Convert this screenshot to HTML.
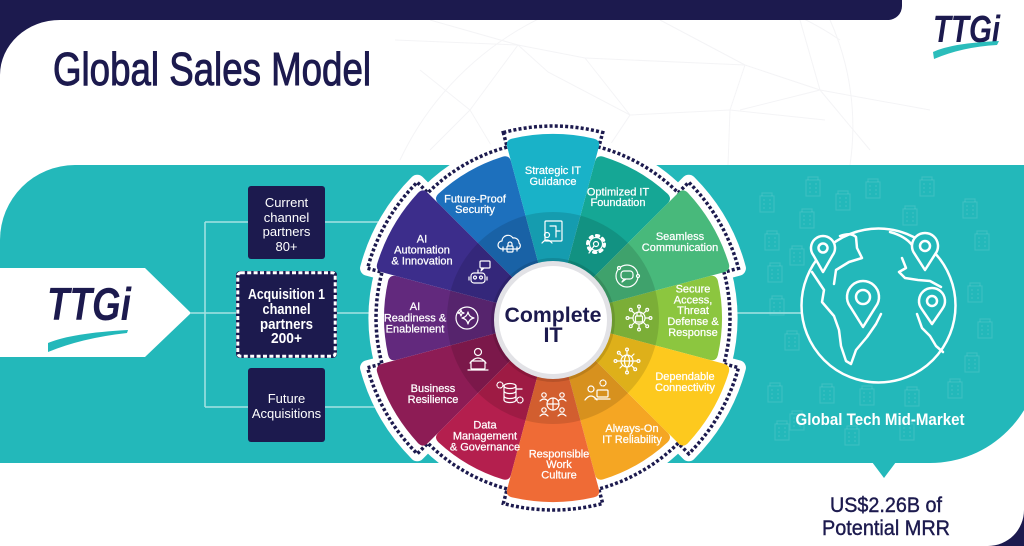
<!DOCTYPE html>
<html><head><meta charset="utf-8">
<style>
html,body{margin:0;padding:0;background:#fff;}
svg{display:block;}
text{font-family:"Liberation Sans",Arial,sans-serif;}
</style></head>
<body>
<svg width="1024" height="546" viewBox="0 0 1024 546" xmlns="http://www.w3.org/2000/svg">
<defs>
<path id="sb" d="M553 318 L507.19 147.04 Q505.38 140.27 512.17 138.58 A184 184 0 0 1 593.83 138.58 Q600.62 140.27 598.81 147.04 Z"/>
<path id="ss" d="M553 318 L511.07 161.52 Q509.26 154.76 516.06 153.09 A169 169 0 0 1 589.94 153.09 Q596.74 154.76 594.93 161.52 Z"/>
<path id="ol" d="M503.31 132.55 A192 192 0 0 1 602.69 132.55 L598.81 147.04 A177 177 0 0 1 678.16 192.84 L688.76 182.24 A192 192 0 0 1 738.45 268.31 L723.96 272.19 A177 177 0 0 1 723.96 363.81 L738.45 367.69 A192 192 0 0 1 688.76 453.76 L678.16 443.16 A177 177 0 0 1 598.81 488.96 L602.69 503.45 A192 192 0 0 1 503.31 503.45 L507.19 488.96 A177 177 0 0 1 427.84 443.16 L417.24 453.76 A192 192 0 0 1 367.55 367.69 L382.04 363.81 A177 177 0 0 1 382.04 272.19 L367.55 268.31 A192 192 0 0 1 417.24 182.24 L427.84 192.84 A177 177 0 0 1 507.19 147.04 Z"/>
<g id="bld"><rect x="0" y="4" width="14" height="16"/><path d="M3 8h2M9 8h2M3 12h2M9 12h2M3 16h2M9 16h2M2 4V1h10v3"/></g>
</defs>
<rect width="1024" height="546" fill="#fff"/>

<!-- faint wireframe -->
<g stroke="#f4f4f6" stroke-width="1" fill="none">
<path d="M395 40 L518 45 L585 58 L745 65 L820 90 L930 110"/>
<path d="M430 20 L518 45 L548 72 L630 115 L730 110 L825 120"/>
<path d="M585 58 L630 115 L600 160 M745 65 L730 110 L728 165 M518 45 L470 110 L500 160"/>
<path d="M660 20 L745 65 M800 20 L820 90 L740 110 M820 90 L870 150 M420 70 L470 110 L430 150"/>
<path d="M400 160 A300 300 0 0 1 840 40"/>
<path d="M830 20 A260 260 0 0 1 850 165"/>
</g>

<!-- header navy -->
<path d="M0 0 H902 V6 A14 14 0 0 1 888 20 H60 A60 55 0 0 0 0 75 Z" fill="#1c1a4e"/>
<path d="M1024 546 H988 A36 36 0 0 0 1024 510 Z" fill="#1c1a4e"/>

<!-- title -->
<text x="53" y="85" font-size="46" fill="#1c1a4e" stroke="#1c1a4e" stroke-width="1" textLength="318" lengthAdjust="spacingAndGlyphs">Global Sales Model</text>

<!-- top-right logo -->
<text x="933" y="42" font-size="38" font-weight="bold" font-style="italic" fill="#1c1a4e" textLength="67" lengthAdjust="spacingAndGlyphs">TTGi</text>
<path d="M933 52 Q952 43 999 41 L997 45 Q962 47 934 59 Z" fill="#2bbdbb"/>

<!-- teal band -->
<path d="M0 240 A75 75 0 0 1 75 165 H1040 V353 A110 110 0 0 1 930 463 H0 Z" fill="#23b8ba"/>
<path d="M872 462 L884 478 L896 462 Z" fill="#23b8ba"/>

<!-- buildings pattern -->
<g stroke="#ffffff" stroke-opacity="0.11" stroke-width="1.2" fill="none">
<use href="#bld" x="760" y="192"/><use href="#bld" x="800" y="208"/><use href="#bld" x="806" y="176"/>
<use href="#bld" x="836" y="190"/><use href="#bld" x="866" y="178"/><use href="#bld" x="903" y="205"/>
<use href="#bld" x="920" y="176"/><use href="#bld" x="963" y="198"/><use href="#bld" x="975" y="230"/>
<use href="#bld" x="765" y="230"/><use href="#bld" x="790" y="245"/><use href="#bld" x="768" y="262"/>
<use href="#bld" x="770" y="295"/><use href="#bld" x="968" y="282"/><use href="#bld" x="978" y="318"/>
<use href="#bld" x="965" y="352"/><use href="#bld" x="948" y="378"/><use href="#bld" x="905" y="386"/>
<use href="#bld" x="860" y="385"/><use href="#bld" x="820" y="383"/><use href="#bld" x="785" y="330"/>
<use href="#bld" x="768" y="382"/><use href="#bld" x="790" y="410"/><use href="#bld" x="845" y="425"/>
<use href="#bld" x="900" y="420"/><use href="#bld" x="775" y="420"/>
</g>

<!-- chevron -->
<path d="M0 268 H145 L191 313 L145 357 H0 Z" fill="#fff"/>
<text x="47" y="320" font-size="46" font-weight="bold" font-style="italic" fill="#1c1a4e" textLength="84" lengthAdjust="spacingAndGlyphs">TTGi</text>
<path d="M48 343 Q72 333 128 330 L127 333 Q82 338 48 352 Z" fill="#23b8ba"/>

<!-- connector lines -->
<g stroke="#a6e2e3" stroke-width="1.5" fill="none">
<path d="M205 222 V407"/>
<path d="M205 222 H248 M325 222 H400"/>
<path d="M191 313 H237 M337 313 H400"/>
<path d="M205 407 H248 M325 407 H400"/>
<path d="M720 313 H801"/>
</g>

<!-- boxes -->
<rect x="248" y="186" width="77" height="73" rx="3" fill="#1c1a4e"/>
<rect x="236" y="271" width="101" height="87" rx="4" fill="#1c1a4e"/>
<rect x="237.8" y="272.8" width="97.4" height="83.4" rx="3" fill="none" stroke="#fff" stroke-width="3" stroke-dasharray="4 2.4"/>
<rect x="248" y="368" width="77" height="74" rx="3" fill="#1c1a4e"/>
<g fill="#fff" font-size="13" text-anchor="middle">
<text x="286.5" y="207">Current</text>
<text x="286.5" y="222">channel</text>
<text x="286.5" y="236">partners</text>
<text x="286.5" y="251">80+</text>
<text x="286.5" y="403">Future</text>
<text x="286.5" y="418">Acquisitions</text>
</g>
<g fill="#fff" font-size="14.5" font-weight="bold" text-anchor="middle">
<text x="286.5" y="299" textLength="77" lengthAdjust="spacingAndGlyphs">Acquisition 1</text>
<text x="286.5" y="314" textLength="48" lengthAdjust="spacingAndGlyphs">channel</text>
<text x="286.5" y="329" textLength="53" lengthAdjust="spacingAndGlyphs">partners</text>
<text x="286.5" y="343" textLength="31" lengthAdjust="spacingAndGlyphs">200+</text>
</g>

<!-- wheel outline -->
<use href="#ol" fill="#fff" stroke="#fff" stroke-width="15" stroke-linejoin="round"/>
<use href="#ol" fill="none" stroke="#1c1a4e" stroke-width="3.5" stroke-dasharray="3 2.2"/>

<!-- sectors -->
<use href="#ss" fill="#15a795" transform="rotate(30 553 318)"/>
<use href="#ss" fill="#8cc63f" transform="rotate(90 553 318)"/>
<use href="#ss" fill="#f5a623" transform="rotate(150 553 318)"/>
<use href="#ss" fill="#b41f4e" transform="rotate(210 553 318)"/>
<use href="#ss" fill="#62297d" transform="rotate(270 553 318)"/>
<use href="#ss" fill="#1d70bd" transform="rotate(330 553 318)"/>
<use href="#sb" fill="#19b2c8" transform="rotate(0 553 318)"/>
<use href="#sb" fill="#48b97b" transform="rotate(60 553 318)"/>
<use href="#sb" fill="#fdc91e" transform="rotate(120 553 318)"/>
<use href="#sb" fill="#ef6b36" transform="rotate(180 553 318)"/>
<use href="#sb" fill="#8d1c55" transform="rotate(240 553 318)"/>
<use href="#sb" fill="#3c2d8b" transform="rotate(300 553 318)"/>

<circle cx="553" cy="318" r="106" fill="#000" opacity="0.12"/>

<!-- icons -->
<g stroke="#fff" stroke-width="1.2" fill="none" stroke-linecap="round" stroke-linejoin="round">
<g transform="translate(553 232)"><rect x="-8" y="-11" width="17" height="20" rx="1"/><path d="M-3 -6h6v5h4M3 -1v6"/><circle cx="-6" cy="3" r="2.5"/><path d="M-11 11q5 -6 10 0"/></g>
<g transform="translate(596 244)"><circle r="6.5"/><circle r="8.5" stroke-width="3" stroke-dasharray="2.4 4.3"/><circle r="2.5"/><path d="M-2 2L-7 9"/></g>
<g transform="translate(627 276)"><circle r="11"/><rect x="-6" y="-5" width="12" height="8" rx="3"/><path d="M-3 3l-2 3l4 -3"/><circle cx="11" cy="0" r="1.5" fill="#48b97b"/><circle cx="-8" cy="-8" r="1.5" fill="#48b97b"/></g>
<g transform="translate(639 318)"><rect x="-3.5" y="-2" width="7" height="6" rx="1"/><path d="M-2 -2v-2a2 2 0 0 1 4 0v2"/><circle r="6"/><path d="M6 0H10M-6 0H-10M0 6V10M0 -6V-10M4.2 4.2L7 7M-4.2 4.2L-7 7M4.2 -4.2L7 -7M-4.2 -4.2L-7 -7"/><circle cx="11.5" cy="0" r="1.4"/><circle cx="-11.5" cy="0" r="1.4"/><circle cx="0" cy="11.5" r="1.4"/><circle cx="0" cy="-11.5" r="1.4"/><circle cx="8.2" cy="8.2" r="1.4"/><circle cx="-8.2" cy="8.2" r="1.4"/><circle cx="8.2" cy="-8.2" r="1.4"/><circle cx="-8.2" cy="-8.2" r="1.4"/></g>
<g transform="translate(627 361)"><circle r="6"/><ellipse rx="2.5" ry="6"/><path d="M-6 0H6M6 0H10M-6 0H-10M0 6V10M0 -6V-10M4.2 4.2L7 7M-4.2 4.2L-7 7M4.2 -4.2L7 -7M-4.2 -4.2L-7 -7"/><circle cx="11.5" cy="0" r="1.4"/><circle cx="-11.5" cy="0" r="1.4"/><circle cx="0" cy="11.5" r="1.4"/><circle cx="0" cy="-11.5" r="1.4"/><circle cx="8.2" cy="8.2" r="1.4"/><circle cx="-8.2" cy="-8.2" r="1.4"/></g>
<g transform="translate(597 392)"><circle cx="-6" cy="-3" r="3"/><path d="M-12 8q6 -8 12 0"/><rect x="0" y="-2" width="11" height="7" rx="1"/><path d="M-2 7H13"/><circle cx="6" cy="-9" r="3" stroke-dasharray="1.5 1.2"/></g>
<g transform="translate(553 404)"><circle r="6"/><path d="M-6 0H6M0 -6V6"/><circle cx="-9" cy="-9" r="2.2"/><circle cx="9" cy="-9" r="2.2"/><circle cx="-9" cy="6" r="2.2"/><circle cx="9" cy="6" r="2.2"/><path d="M-13 -3q4 -4 8 0M5 -3q4 -4 8 0M-13 12q4 -4 8 0M5 12q4 -4 8 0"/></g>
<g transform="translate(510 393)"><ellipse cx="0" cy="-7" rx="6" ry="2.5"/><path d="M-6 -7v14a6 2.5 0 0 0 12 0v-14M-6 -2a6 2.5 0 0 0 12 0M-6 3a6 2.5 0 0 0 12 0"/><circle cx="-10" cy="-8" r="3" stroke-dasharray="1.5 1.2"/><circle cx="10" cy="7" r="3" stroke-dasharray="1.5 1.2"/><path d="M6 -4H12"/></g>
<g transform="translate(478 361)"><circle cx="0" cy="-9" r="3.5"/><path d="M-8 2q8 -10 16 0"/><rect x="-7" y="0" width="14" height="8" rx="1"/><path d="M-10 9H10"/></g>
<g transform="translate(467 318)"><circle r="11"/><path d="M1 -6Q2 -1 7 0Q2 1 1 6Q0 1 -5 0Q0 -1 1 -6Z"/><path d="M-6 -8l0.8 2.2l2.2 0.8l-2.2 0.8l-0.8 2.2l-0.8 -2.2l-2.2 -0.8l2.2 -0.8Z"/></g>
<g transform="translate(478 276)"><rect x="-7" y="-3" width="14" height="10" rx="3"/><circle cx="-3" cy="1.5" r="1.5"/><circle cx="3" cy="1.5" r="1.5"/><path d="M0 -3V-6M-9 1V4M9 1V4"/><rect x="2" y="-15" width="10" height="7" rx="1"/><path d="M4 -8l-1 3l3 -3"/></g>
<g transform="translate(510 244)"><path d="M-8 5a4 4 0 0 1 0 -8a6 6 0 0 1 11 -3a5 5 0 0 1 6 5a3.5 3.5 0 0 1 -1 6Z"/><rect x="-3" y="2" width="6" height="6" rx="1"/><path d="M-2 2v-2a2 2 0 0 1 4 0v2"/><path d="M-7 3v4M7 3v4"/></g>
</g>

<!-- center circle -->
<circle cx="553" cy="320" r="62" fill="#000" opacity="0.12"/>
<circle cx="553" cy="320" r="56.5" fill="#fff" stroke="#e2e2e6" stroke-width="5"/>
<text x="553" y="322" font-size="21.5" font-weight="bold" fill="#1c1a4e" text-anchor="middle" textLength="97" lengthAdjust="spacingAndGlyphs">Complete</text>
<text x="553" y="342" font-size="21.5" font-weight="bold" fill="#1c1a4e" text-anchor="middle">IT</text>

<!-- sector labels -->
<g fill="#fff" stroke="#fff" stroke-width="0.25" font-size="11" text-anchor="middle">
<text x="553" y="174">Strategic IT</text><text x="553" y="185">Guidance</text>
<text x="618" y="195.5">Optimized IT</text><text x="618" y="206">Foundation</text>
<text x="680" y="240">Seamless</text><text x="680" y="251">Communication</text>
<text x="693" y="292.5">Secure</text><text x="693" y="303.3">Access,</text><text x="693" y="314">Threat</text><text x="693" y="325">Defense &amp;</text><text x="693" y="336">Response</text>
<text x="685" y="380">Dependable</text><text x="685" y="391">Connectivity</text>
<text x="632" y="432">Always-On</text><text x="632" y="443">IT Reliability</text>
<text x="559" y="457.5">Responsible</text><text x="559" y="468">Work</text><text x="559" y="478.5">Culture</text>
<text x="485" y="428.5">Data</text><text x="485" y="439.5">Management</text><text x="485" y="450.5">&amp; Governance</text>
<text x="433" y="392">Business</text><text x="433" y="403">Resilience</text>
<text x="415" y="310">AI</text><text x="415" y="321.7">Readiness &amp;</text><text x="415" y="332.7">Enablement</text>
<text x="422" y="242.3">AI</text><text x="422" y="253.3">Automation</text><text x="422" y="264.3">&amp; Innovation</text>
<text x="475" y="202.5">Future-Proof</text><text x="475" y="213">Security</text>
</g>

<!-- globe -->
<g stroke="#fff" stroke-width="2.5" fill="none" stroke-linecap="round" stroke-linejoin="round">
<circle cx="878.5" cy="305.5" r="77"/>
<path d="M840 236 Q851 232 856 237 L857 248 L862 258 L849 262 L836 270 L834 284"/>
<path d="M812 272 L824 290 L822 302 L834 316 L839 330 L841 346 L846 361 L851 364 L856 350 L867 337 L876 324 L881 314"/>
<path d="M902 258 L906 268 L899 272 L905 278 L918 280 L930 281 L941 287"/>
<path d="M917 314 L922 328 L930 336 L936 346 L943 352"/>
<path d="M890 232 Q905 236 912 245"/>
</g>
<g stroke="#fff" stroke-width="2.5" fill="#23b8ba" stroke-linejoin="round">
<path d="M823 272 L813.4 255.2 A12 12 0 1 1 832.6 255.2 Z"/><circle cx="823" cy="248" r="4.5"/>
<path d="M925 270 L914.6 253.8 A13 13 0 1 1 935.4 253.8 Z"/><circle cx="925" cy="246" r="5"/>
<path d="M863 327 L850.2 306.6 A16 16 0 1 1 875.8 306.6 Z"/><circle cx="863" cy="297" r="7"/>
<path d="M932 324 L921.6 308.8 A13 13 0 1 1 942.4 308.8 Z"/><circle cx="932" cy="301" r="5"/>
</g>

<text x="880" y="425" font-size="17" font-weight="bold" fill="#fff" text-anchor="middle" textLength="169" lengthAdjust="spacingAndGlyphs">Global Tech Mid-Market</text>

<g fill="#1c1a4e" stroke="#1c1a4e" stroke-width="0.4" font-size="21" text-anchor="middle">
<text x="886" y="512" textLength="112" lengthAdjust="spacingAndGlyphs">US$2.26B of</text>
<text x="886" y="535" textLength="128" lengthAdjust="spacingAndGlyphs">Potential MRR</text>
</g>
</svg>
</body></html>
